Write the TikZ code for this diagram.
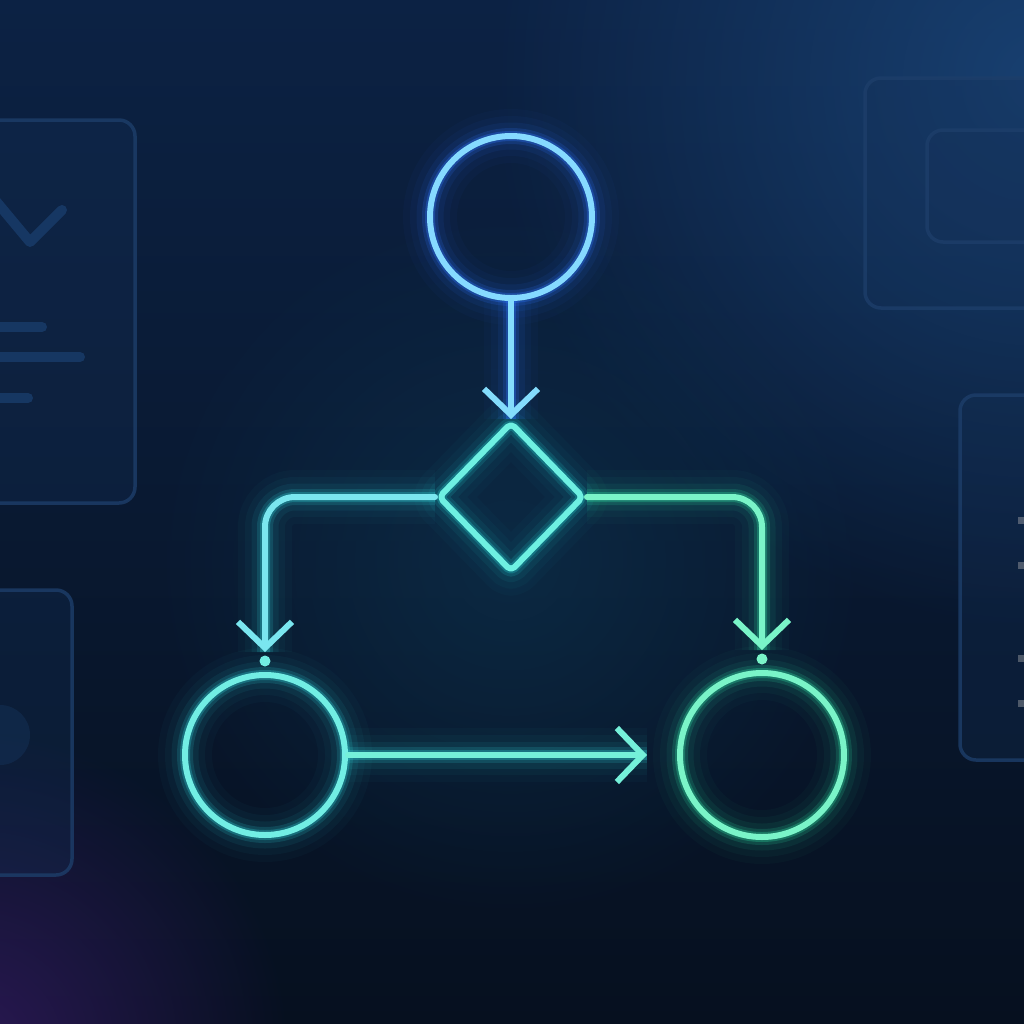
\documentclass[tikz,border=0pt]{standalone}
\usetikzlibrary{shapes.geometric,arrows.meta,fadings}

\definecolor{bgtop}{HTML}{0C2244}
\definecolor{bgbottom}{HTML}{06101F}
\definecolor{bgblue}{HTML}{1C4A80}
\definecolor{bgpurple}{HTML}{3A1C6A}
\definecolor{bgteal}{HTML}{0E3550}
\definecolor{panelline}{HTML}{1D3E6A}
\definecolor{panelfill}{HTML}{143057}
\definecolor{panelink}{HTML}{1A3F6E}
\definecolor{startcore}{HTML}{86DAFF}
\definecolor{startglow}{HTML}{2D74FF}
\definecolor{choicecore}{HTML}{6EF0E2}
\definecolor{choiceglow}{HTML}{22C4C8}
\definecolor{yescore}{HTML}{72EEE4}
\definecolor{yesglow}{HTML}{2CC8D0}
\definecolor{nocore}{HTML}{7AF4C8}
\definecolor{noglow}{HTML}{2ED8A0}

\tikzfading[name=softglow,inner color=transparent!0,outer color=transparent!100]

\tikzset{
  glow/.style={preaction={draw=#1,-,line width=5.4mm,opacity=.03},
               preaction={draw=#1,-,line width=4mm,opacity=.045},
               preaction={draw=#1,-,line width=2.7mm,opacity=.08},
               preaction={draw=#1,-,line width=1.6mm,opacity=.17},
               preaction={draw=#1,-,line width=1mm,opacity=.3}},
  flow/.style={line width=.6mm,line cap=round,line join=round},
  state/.style={circle,flow,inner sep=0pt},
  choice/.style={diamond,flow,inner sep=0pt,minimum width=14.6mm,minimum height=15mm,rounded corners=.5mm},
  barb/.style={-{Straight Barb[length=2.6mm,width=5.4mm]}},
  panel/.style={draw=panelline,fill=panelfill,fill opacity=.3,draw opacity=.8,line width=.35mm,rounded corners=1.6mm},
  inkline/.style={draw=panelink,line width=1mm,line cap=round,line join=round,opacity=.75}
}

\begin{document}
\begin{tikzpicture}
\useasboundingbox (0,0) rectangle (10.24,-10.24);

% background
\shade[top color=bgtop,bottom color=bgbottom] (0,0) rectangle (10.24,-10.24);
\fill[bgblue,path fading=softglow,opacity=.75] (10.4,-0.8) circle (5.5);
\fill[bgpurple,path fading=softglow,opacity=.7] (-0.3,-10.5) circle (3.2);
\fill[bgteal,path fading=softglow,opacity=.6] (5.1,-5.6) circle (3.6);

% faded panels
\draw[panel] (-0.3,-1.2) rectangle (1.35,-5.03);
\draw[inkline] (-0.05,-2.0) -- (0.3,-2.42) -- (0.62,-2.1);
\draw[inkline] (-0.1,-3.27) -- (0.42,-3.27);
\draw[inkline] (-0.1,-3.57) -- (0.8,-3.57);
\draw[inkline] (-0.1,-3.98) -- (0.28,-3.98);

\draw[panel] (8.65,-0.78) rectangle (10.5,-3.08);
\draw[panel] (9.27,-1.3) rectangle (10.5,-2.42);

\draw[panel] (9.6,-3.95) rectangle (10.5,-7.6);
\foreach \y in {5.17,5.62,6.55,7.0}
  \fill[gray!60,opacity=.4] (10.18,-\y) rectangle (10.24,-\y-0.07);

\draw[panel] (-0.3,-5.9) rectangle (0.72,-8.75);
\fill[panelink,opacity=.3] (0,-7.35) circle (0.3);

% flow chart
\node[state,minimum size=16.2mm,draw=startcore,glow=startglow] (start) at (5.11,-2.17) {};
\node[choice,draw=choicecore,glow=choiceglow] (decide) at (5.11,-4.97) {};
\node[state,minimum size=16mm,draw=yescore,glow=yesglow] (yes) at (2.65,-7.55) {};
\node[state,minimum size=16.4mm,draw=nocore,glow=noglow] (no) at (7.62,-7.55) {};

\draw[flow,barb,draw=startcore!90!choicecore,glow=startglow] (start) -- (decide);
\draw[flow,barb,rounded corners=3mm,shorten >=2mm,draw=startcore!40!yescore,glow=yesglow] (decide.west) -| (yes);
\draw[flow,barb,rounded corners=3mm,shorten >=2mm,draw=nocore,glow=noglow] (decide.east) -| (no);
\draw[flow,barb,shorten >=3mm,draw=yescore!60!nocore,glow=yesglow] (yes) -- (no);

\fill[yescore] ([yshift=1.1mm]yes.north) circle (.55mm);
\fill[nocore] ([yshift=1.1mm]no.north) circle (.55mm);
\end{tikzpicture}
\end{document}
